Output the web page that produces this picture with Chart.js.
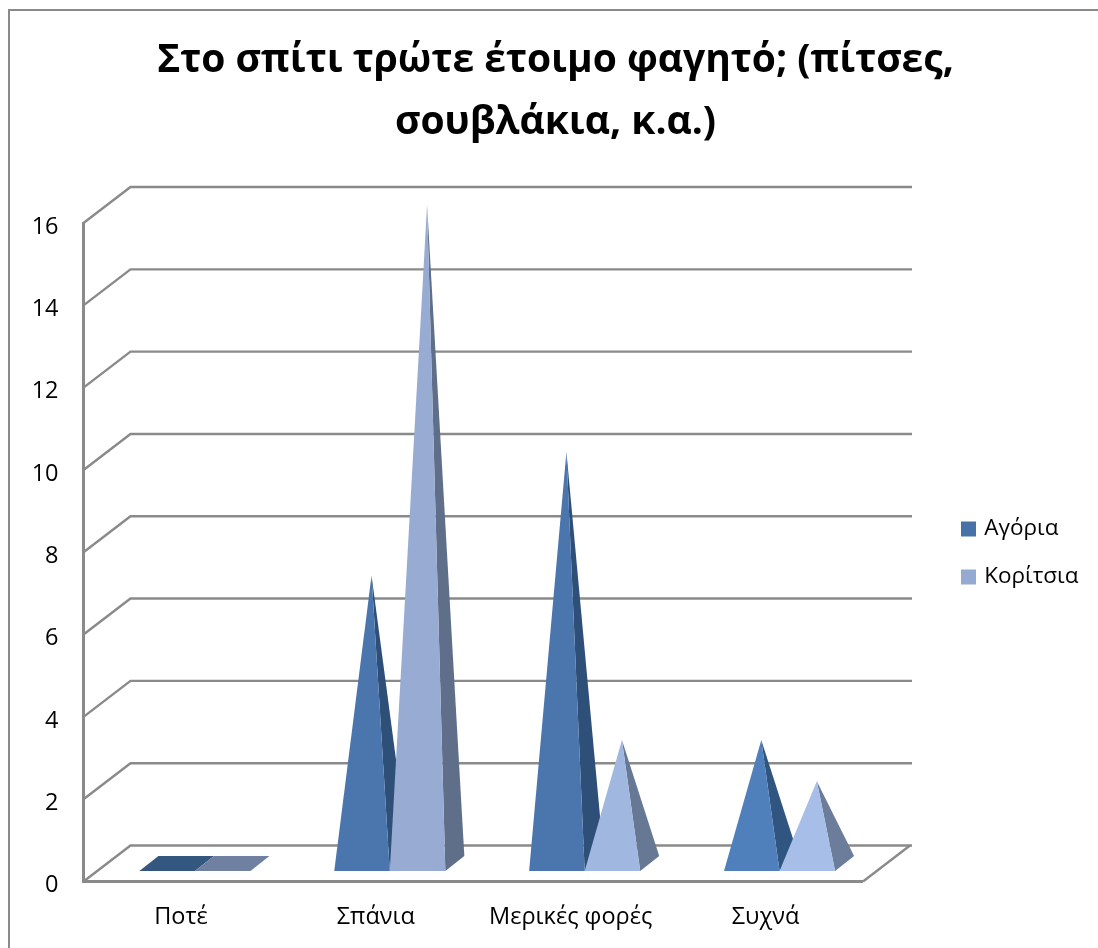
<!DOCTYPE html>
<html lang="el">
<head>
<meta charset="utf-8">
<title>Έτοιμο φαγητό</title>
<style>
html, body { margin: 0; padding: 0; background: #fff; }
canvas { display: block; }
</style>
<script src="https://cdn.jsdelivr.net/npm/chart.js@4/dist/chart.umd.min.js"></script>
</head>
<body>
<canvas id="chart" width="1098" height="948"></canvas>
<script>
const categories = ['Ποτέ', 'Σπάνια', 'Μερικές φορές', 'Συχνά'];
const boys = [0, 7, 10, 3];
const girls = [0, 16, 3, 2];
const titleLines = ['Στο σπίτι τρώτε έτοιμο φαγητό; (πίτσες,', 'σουβλάκια, κ.α.)'];

// face colours lighten as the pyramids get shorter
const boysFront = ['#34577f', '#4a76ad', '#4a76ad', '#4f80bb'];
const boysSide = ['#34577f', '#2e4f77', '#2e4f77', '#315581'];
const girlsFront = ['#6f80a0', '#98abd2', '#a0b7e0', '#a7bee8'];
const girlsSide = ['#6f80a0', '#5f6f8a', '#667894', '#6b7d9a'];
const legendColors = ['#4672a8', '#95aad0'];

const LINE = '#8a8a8a';
const FONT = "'Open Sans', sans-serif";
// receding offset of the back wall and of a pyramid's base
const WALL_DX = 47, WALL_DY = 36;
const BASE_DX = 19, BASE_DY = 15;

class PyramidElement extends Chart.BarElement {
  static id = 'pyramid';

  draw(ctx) {
    const { x, y, base, width } = this.getProps(['x', 'y', 'base', 'width']);
    const { backgroundColor, borderColor } = this.options;
    // pyramids stand in the middle of the floor's depth
    const left = x - width / 2 + (WALL_DX - BASE_DX) / 2;
    const right = left + width;
    const bottom = base - (WALL_DY - BASE_DY) / 2;
    const height = base - y;

    const fillPoly = (points, color) => {
      ctx.beginPath();
      points.forEach(([px, py], i) => (i ? ctx.lineTo(px, py) : ctx.moveTo(px, py)));
      ctx.closePath();
      ctx.fillStyle = color;
      ctx.fill();
    };

    ctx.save();
    if (height < 0.5) {
      // a zero value leaves only the flat base
      fillPoly([[left, bottom], [right, bottom], [right + BASE_DX, bottom - BASE_DY], [left + BASE_DX, bottom - BASE_DY]], borderColor);
    } else {
      const apex = [(left + right + BASE_DX) / 2, bottom - BASE_DY / 2 - height];
      fillPoly([[right, bottom], [right + BASE_DX, bottom - BASE_DY], apex], borderColor);
      fillPoly([[left, bottom], [right, bottom], apex], backgroundColor);
    }
    ctx.restore();
  }
}

class PyramidController extends Chart.BarController {
  static id = 'pyramid';
  static defaults = { ...Chart.BarController.defaults, dataElementType: 'pyramid' };
}

Chart.register(PyramidElement, PyramidController);

const scene = {
  id: 'scene',
  afterLayout(chart) {
    // legend and title sit off the default slots
    chart.legend.left += 75.5;
    chart.legend.right += 75.5;
    chart.legend.top += 79;
    chart.legend.bottom += 79;
    chart.titleBlock.left += 44;
    chart.titleBlock.right += 44;
  },
  beforeDraw(chart) {
    const { ctx, width, height } = chart;
    ctx.save();
    ctx.strokeStyle = LINE;
    ctx.lineWidth = 2;
    ctx.beginPath();
    ctx.moveTo(9, height);
    ctx.lineTo(9, 10);
    ctx.lineTo(width, 10);
    ctx.stroke();
    ctx.restore();
  },
  beforeDatasetsDraw(chart) {
    const { ctx, chartArea: area, scales: { y } } = chart;
    ctx.save();
    ctx.strokeStyle = LINE;
    ctx.lineWidth = 2.4;
    y.ticks.forEach((tick, i) => {
      const py = y.getPixelForTick(i);
      ctx.beginPath();
      ctx.moveTo(area.left, py);
      ctx.lineTo(area.left + WALL_DX, py - WALL_DY);
      ctx.lineTo(area.right + WALL_DX + 2, py - WALL_DY);
      ctx.stroke();
    });
    // right edge of the floor
    ctx.beginPath();
    ctx.moveTo(area.right, area.bottom);
    ctx.lineTo(area.right + WALL_DX, area.bottom - WALL_DY);
    ctx.stroke();
    ctx.restore();
    // first series goes first so the second overlaps it, and tips may leave the chart area
    chart.getSortedVisibleDatasetMetas().forEach(meta => meta.controller.draw());
    return false;
  }
};

new Chart(document.getElementById('chart'), {
  type: 'pyramid',
  data: {
    labels: categories,
    datasets: [
      { label: 'Αγόρια', data: boys, backgroundColor: boysFront, borderColor: boysSide },
      { label: 'Κορίτσια', data: girls, backgroundColor: girlsFront, borderColor: girlsSide }
    ]
  },
  options: {
    responsive: false,
    animation: false,
    categoryPercentage: 0.57,
    barPercentage: 1,
    layout: { padding: { left: 10, right: 85, top: 0, bottom: 0 } },
    scales: {
      x: {
        type: 'category',
        offset: true,
        grid: { display: false },
        border: { color: LINE, width: 3 },
        ticks: { color: '#000', font: { family: FONT, size: 23.5 }, padding: 14, maxRotation: 0, autoSkip: false },
        afterFit(scale) { scale.height = 66.5; }
      },
      y: {
        type: 'linear',
        min: 0,
        max: 16,
        grid: { display: false },
        border: { color: LINE, width: 3 },
        ticks: { stepSize: 2, color: '#000', font: { family: FONT, size: 23.5 }, padding: 17, labelOffset: 4 },
        afterFit(scale) { scale.width = 73.5; }
      }
    },
    plugins: {
      title: {
        display: true,
        text: titleLines,
        color: '#000',
        font: { family: FONT, size: 39, weight: 'bold', lineHeight: 1.59 },
        padding: { top: 30, bottom: 69 }
      },
      legend: {
        position: 'right',
        labels: {
          boxWidth: 9,
          boxHeight: 9,
          color: '#000',
          font: { family: FONT, size: 22.5 },
          padding: 25.5,
          generateLabels(chart) {
            const items = Chart.defaults.plugins.legend.labels.generateLabels(chart);
            // the stroke brings each key up to its full size while keeping the text close
            items.forEach((item, i) => {
              item.fillStyle = legendColors[i];
              item.strokeStyle = legendColors[i];
              item.lineWidth = 6;
            });
            return items;
          }
        }
      },
      tooltip: { enabled: false }
    }
  },
  plugins: [scene]
});
</script>
</body>
</html>
